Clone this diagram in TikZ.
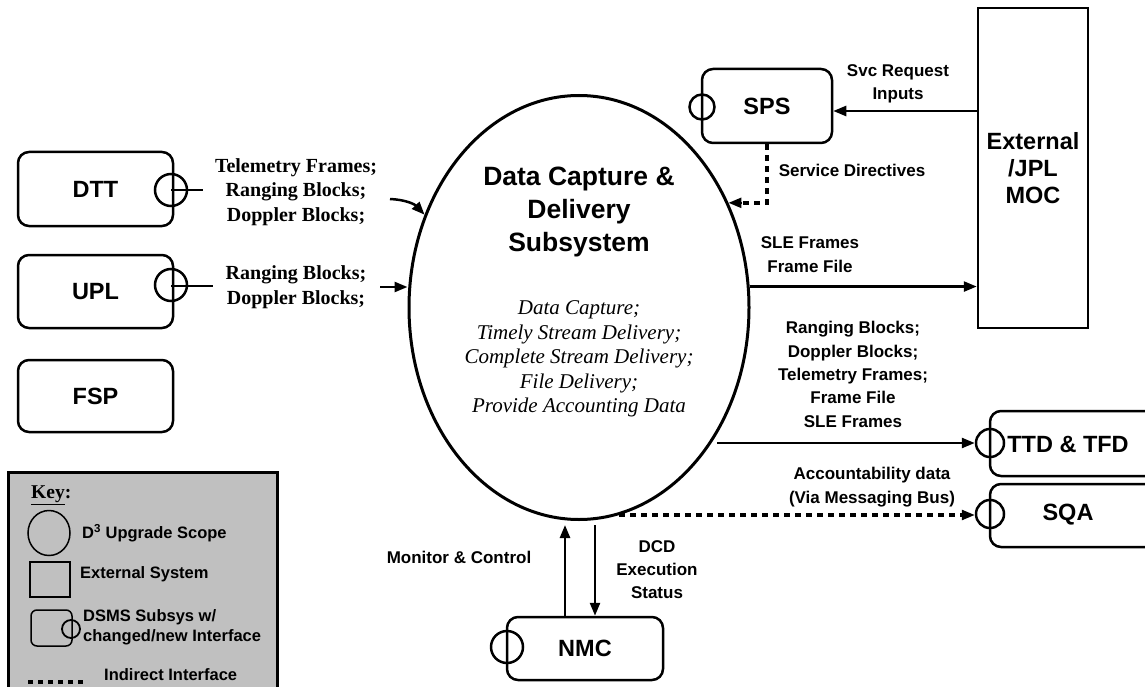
\documentclass[tikz,border=0pt]{standalone}
\usepackage{fontspec}
\setmainfont{Liberation Serif}
\setsansfont{Liberation Sans}
\usetikzlibrary{shapes.geometric,arrows.meta}
\definecolor{keygray}{RGB}{192,192,192}
\newcommand{\dcdBoxFont}{\sffamily\bfseries\fontsize{23.5}{27}\selectfont}
\newcommand{\dcdTitleFont}{\sffamily\bfseries\fontsize{26.5}{33}\selectfont}
\newcommand{\dcdLabelFont}{\sffamily\bfseries\fontsize{17}{23.3}\selectfont}
\newcommand{\dcdSerifFont}{\rmfamily\bfseries\fontsize{20}{24.5}\selectfont}
\newcommand{\dcdItalicFont}{\rmfamily\itshape\fontsize{21}{24.6}\selectfont}
\newcommand{\dcdKeyFont}{\sffamily\bfseries\fontsize{16.5}{20}\selectfont}
\begin{document}
\begin{tikzpicture}[x=1pt,y=-1pt,
  sysbox/.style={draw, line width=2.5pt, rounded corners=11pt, font=\dcdBoxFont, inner sep=0pt, align=center},
  extbox/.style={draw, line width=2.5pt, font=\dcdBoxFont, inner sep=0pt, align=center},
  ifport/.style={draw, circle, line width=2.5pt, inner sep=0pt, minimum size=#1},
  ifport/.default=30pt,
  flow/.style={line width=2.5pt, -{Triangle[length=13pt,width=10pt]}},
  link/.style={line width=2pt},
  indirect/.style={line width=4.5pt, dash pattern=on 5.5pt off 5.5pt},
  sanslbl/.style={font=\dcdLabelFont, align=center, inner sep=0pt},
  serlbl/.style={font=\dcdSerifFont, align=center, inner sep=0pt},
  keylbl/.style={font=\dcdKeyFont, align=left, anchor=west, inner sep=0pt}]
\clip (0,0) rectangle (1145,687);
\fill[white] (0,0) rectangle (1145,687);

% central subsystem
\node[draw, ellipse, line width=3pt, minimum width=340pt, minimum height=424pt, inner sep=0pt] (dcd) at (579,307.5) {};
\node[font=\dcdTitleFont, align=center, inner sep=0pt] (title) at (579,212) {Data Capture \&\\Delivery\\Subsystem};
\node[font=\dcdItalicFont, align=center, inner sep=0pt] (funcs) at (579,359)
  {Data Capture;\\Timely Stream Delivery;\\Complete Stream Delivery;\\File Delivery;\\Provide Accounting Data};

% left-hand DSMS subsystems
\node[sysbox, minimum width=155pt, minimum height=74pt] (dtt) at (95.5,189) {DTT};
\coordinate (dttend) at (203,190);
\draw[link] (171,190) -- (dttend);
\node[ifport=32pt] (dttport) at (171,190) {};
\node[serlbl] (dttlbl) at (296,192) {Telemetry Frames;\\Ranging Blocks;\\Doppler Blocks;};
\coordinate (dttin) at (390,199);
\draw[flow] (dttin) to[bend left=22] (dcd.149);

\node[sysbox, minimum width=155pt, minimum height=73pt] (upl) at (95.5,291.5) {UPL};
\coordinate (uplend) at (213,286);
\draw[link] (171,286) -- (uplend);
\node[ifport=32pt] (uplport) at (171,285) {};
\node[serlbl] (upllbl) at (296,287) {Ranging Blocks;\\Doppler Blocks;};
\coordinate (uplin) at (380,287);
\draw[flow] (uplin) -- (uplin -| dcd.west);

\node[sysbox, minimum width=155pt, minimum height=72pt] (fsp) at (95.5,396) {FSP};

% service preparation
\node[sysbox, minimum width=130pt, minimum height=74pt] (sps) at (767,106) {SPS};
\node[ifport=25pt] (spsport) at (702,107) {};

% external mission operations centre
\node[extbox, minimum width=110pt, minimum height=320pt] (ext) at (1033,168) {External\\/JPL\\MOC};

\draw[flow] (ext.west |- 0,111) -- (sps.east |- 0,111);
\node[sanslbl] (svclbl) at (898,84) {Svc Request\\Inputs};

\draw[indirect] (sps.south) -- (sps.south |- dcd.35) -- ([xshift=12pt]dcd.35);
\draw[-{Triangle[length=13pt,width=10pt]}, line width=2.5pt] ([xshift=13pt]dcd.35) -- (dcd.35);
\node[sanslbl] (sdlbl) at (852,170) {Service Directives};

\draw[flow] (dcd.7) -- (dcd.7 -| ext.west);
\node[sanslbl] (slelbl) at (810,254.5) {SLE Frames\\Frame File};

% tracking / telemetry delivery and service quality
\draw[line width=2.5pt, rounded corners=11pt] (1190,411) -- (990,411) -- (990,476) -- (1190,476);
\node[ifport=28pt] (ttdport) at (990,443) {};
\node[font=\dcdBoxFont, inner sep=0pt] (ttd) at (1068,444) {TTD \& TFD};

\draw[line width=2.5pt, rounded corners=11pt] (1190,484) -- (990,484) -- (990,547) -- (1190,547);
\node[ifport=28pt] (sqaport) at (990,514) {};
\node[font=\dcdBoxFont, inner sep=0pt] (sqa) at (1068,515) {SQA};

\node[sanslbl] (dlvlbl) at (853,374.5) {Ranging Blocks;\\Doppler Blocks;\\Telemetry Frames;\\Frame File\\SLE Frames};
\coordinate (ttdsrc) at (717,443);
\draw[flow] (ttdsrc) -- (ttdport.west);

\draw[indirect] (dcd.-79) -- ([xshift=-12pt]dcd.-79 -| sqaport.west);
\draw[-{Triangle[length=13pt,width=10pt]}, line width=2.5pt] ([xshift=-13pt]dcd.-79 -| sqaport.west) -- (dcd.-79 -| sqaport.west);
\node[sanslbl] (acclbl) at (872,487) {Accountability data\\(Via Messaging Bus)};

% network monitor and control
\node[sysbox, minimum width=156pt, minimum height=63pt] (nmc) at (585,648.5) {NMC};
\node[ifport=32pt] (nmcport) at (507,647) {};
\draw[flow, shorten >=4pt] ([xshift=-20pt]nmc.north) -- ([xshift=-20pt]nmc.north |- dcd.south);
\draw[flow, shorten <=4pt] ([xshift=10pt]nmc.north |- dcd.south) -- ([xshift=10pt]nmc.north);
\node[sanslbl] (mclbl) at (459,557) {Monitor \& Control};
\node[sanslbl] (statlbl) at (657,569.5) {DCD\\Execution\\Status};

% key
\draw[line width=3pt, fill=keygray] (8,472) rectangle (277,700);
\node[font=\rmfamily\bfseries\fontsize{19.5}{22}\selectfont, anchor=west, inner sep=0pt] (keyttl) at (31,495) {\underline{Key}:};
\node[draw, ellipse, line width=1.5pt, minimum width=42pt, minimum height=45pt, inner sep=0pt] (keyell) at (49,533) {};
\node[keylbl] (keyelltxt) at (82,533) {D\textsuperscript{3} Upgrade Scope};
\node[draw, line width=1.5pt, minimum width=40pt, minimum height=35pt, inner sep=0pt] (keyrect) at (50,579.5) {};
\node[keylbl] (keyrecttxt) at (80,574) {External System};
\node[draw, line width=1.5pt, rounded corners=6pt, minimum width=41pt, minimum height=36pt, inner sep=0pt] (keyrnd) at (51.5,628) {};
\node[draw, circle, line width=1.8pt, minimum size=18pt, inner sep=0pt] (keyport) at (71,629) {};
\node[keylbl] (keyrndtxt) at (83,627) {DSMS Subsys w/\\changed/new Interface};
\coordinate (keydotA) at (28,682);
\coordinate (keydotB) at (87,682);
\draw[line width=4pt, dash pattern=on 5pt off 5pt] (keydotA) -- (keydotB);
\node[keylbl] (keydottxt) at (104,675) {Indirect Interface};
\end{tikzpicture}
\end{document}
